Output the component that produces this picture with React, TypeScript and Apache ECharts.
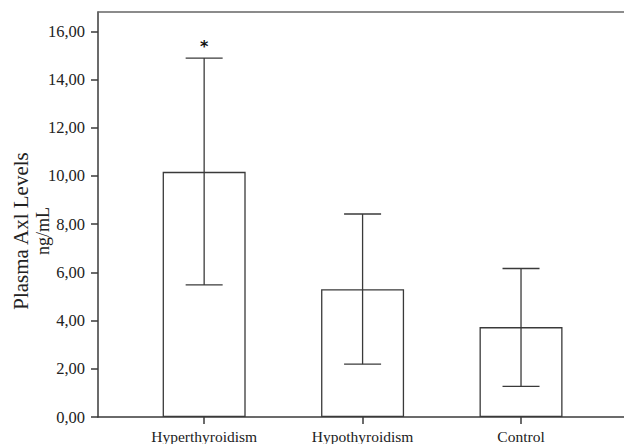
import React, { useEffect, useRef } from "react";
import * as echarts from "echarts";

const categories = ["Hyperthyroidism", "Hypothyroidism", "Control"];
const means = [10.17, 5.3, 3.73];
const lowerErr = [5.48, 2.19, 1.27];
const upperErr = [14.89, 8.42, 6.16];
const significance = ["*", "", ""];
const yTicks = [0, 2, 4, 6, 8, 10, 12, 14, 16];

const SERIF = "'Liberation Serif', 'DejaVu Serif', serif";
const LINE = "#3a3a3a";

export default function App() {
  const ref = useRef<HTMLDivElement>(null);
  useEffect(() => {
    if (!ref.current) return;
    const chart = echarts.init(ref.current, undefined, { renderer: "svg" });
    const idx = categories.map((_, i) => i);
    chart.setOption({
      animation: false,
      backgroundColor: "#ffffff",
      grid: { left: 98, right: 0, top: 12, bottom: 26 },
      xAxis: [
        {
          type: "value",
          min: -0.67,
          max: 2.65,
          position: "bottom",
          axisLine: { show: true, lineStyle: { color: LINE, width: 1.5 } },
          axisTick: { show: true, customValues: idx, length: 7, lineStyle: { color: LINE, width: 1.5 } },
          axisLabel: {
            customValues: idx,
            formatter: (v: number) => categories[Math.round(v)] ?? "",
            color: "#222",
            fontFamily: SERIF,
            fontSize: 15.5,
            margin: 11,
          },
          splitLine: { show: false },
        },
        {
          type: "value",
          min: -0.67,
          max: 2.65,
          position: "top",
          axisLine: { show: true, lineStyle: { color: "#666", width: 1.5 } },
          axisTick: { show: false },
          axisLabel: { show: false },
          splitLine: { show: false },
        },
      ],
      yAxis: {
        type: "value",
        min: 0,
        max: 16.8,
        interval: 2,
        axisLine: { show: true, onZero: false, lineStyle: { color: LINE, width: 1.5 } },
        axisTick: { show: true, customValues: yTicks, length: 7, lineStyle: { color: LINE, width: 1.5 } },
        axisLabel: {
          customValues: yTicks,
          formatter: (v: number) => v.toFixed(2).replace(".", ","),
          color: "#222",
          fontFamily: SERIF,
          fontSize: 16.5,
          margin: 13,
        },
        splitLine: { show: false },
      },
      graphic: [
        {
          type: "text",
          x: 21,
          y: 231,
          rotation: Math.PI / 2,
          style: {
            text: "Plasma Axl Levels",
            fontFamily: SERIF,
            fontSize: 21,
            fill: "#222",
            align: "center",
            verticalAlign: "middle",
          },
        },
        {
          type: "text",
          x: 43,
          y: 231,
          rotation: Math.PI / 2,
          style: {
            text: "ng/mL",
            fontFamily: SERIF,
            fontSize: 18,
            fill: "#222",
            align: "center",
            verticalAlign: "middle",
          },
        },
      ],
      series: [
        {
          type: "bar",
          xAxisIndex: 0,
          barWidth: 83,
          data: means.map((m, i) => [i, m]),
          itemStyle: { color: "#ffffff", borderColor: LINE, borderWidth: 1.3 },
        },
        {
          type: "custom",
          xAxisIndex: 0,
          data: idx.map((i) => [i, lowerErr[i], upperErr[i]]),
          renderItem: (params: any, api: any) => {
            const x = api.value(0);
            const lo = api.coord([x, api.value(1)]);
            const hi = api.coord([x, api.value(2)]);
            const half = 18.5;
            const style = { stroke: LINE, lineWidth: 1.3 };
            const children: any[] = [
              { type: "line", shape: { x1: lo[0], y1: lo[1], x2: hi[0], y2: hi[1] }, style },
              { type: "line", shape: { x1: lo[0] - half, y1: lo[1], x2: lo[0] + half, y2: lo[1] }, style },
              { type: "line", shape: { x1: hi[0] - half, y1: hi[1], x2: hi[0] + half, y2: hi[1] }, style },
            ];
            const sig = significance[params.dataIndex];
            if (sig) {
              children.push({
                type: "text",
                x: hi[0],
                y: hi[1] - 4,
                style: {
                  text: sig,
                  fontFamily: "'DejaVu Sans', sans-serif",
                  fontSize: 16,
                  fontWeight: "bold",
                  fill: "#111",
                  align: "center",
                  verticalAlign: "bottom",
                },
              });
            }
            return { type: "group", children };
          },
          z: 5,
        },
      ],
    });
    return () => chart.dispose();
  }, []);
  return <div ref={ref} style={{ width: 624, height: 444, position: "absolute", left: 0, top: 0 }} />;
}
